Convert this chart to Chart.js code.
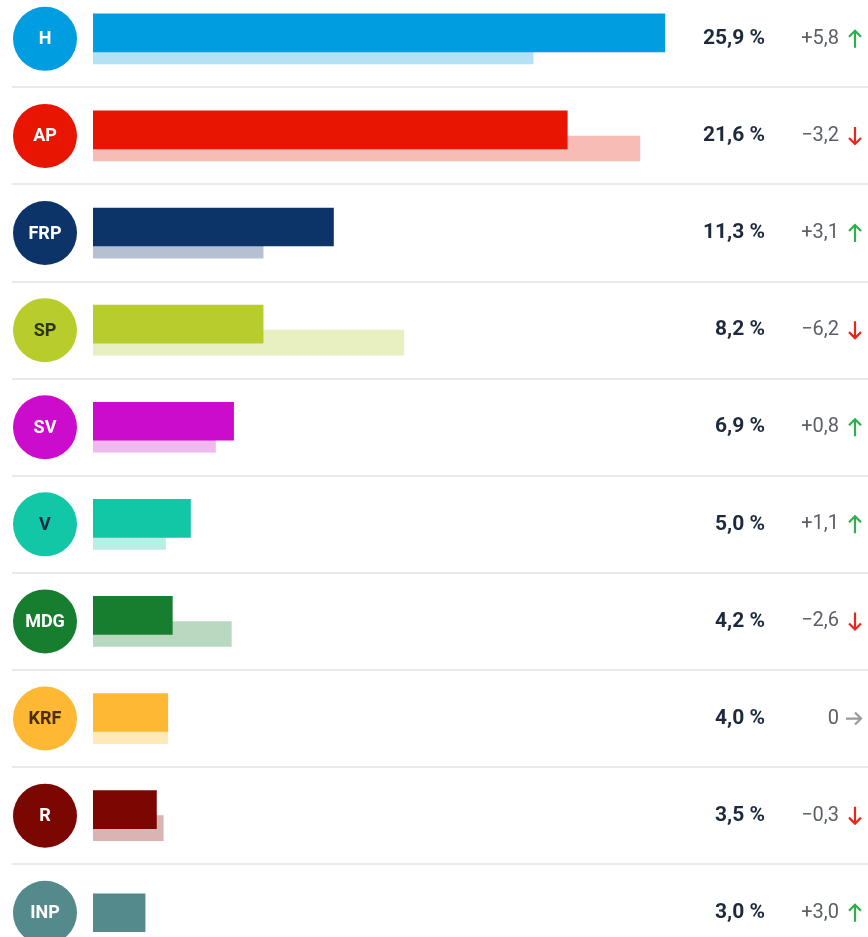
<!DOCTYPE html>
<html>
<head>
<meta charset="utf-8">
<script src="https://cdn.jsdelivr.net/npm/chart.js@4/dist/chart.umd.min.js"></script>
<style>
  html, body { margin: 0; padding: 0; background: #fff; }
  #wrap { width: 868px; height: 937px; }
</style>
</head>
<body>
<div id="wrap"><canvas id="valg" width="868" height="937"></canvas></div>
<script>
const parties = ['H', 'AP', 'FRP', 'SP', 'SV', 'V', 'MDG', 'KRF', 'R', 'INP'];
const current = [25.9, 21.6, 11.3, 8.2, 6.9, 5.0, 4.2, 4.0, 3.5, 3.0];
const previous = [20.1, 24.8, 8.2, 14.4, 6.1, 3.9, 6.8, 4.0, 3.8, 0];
const change = [5.8, -3.2, 3.1, -6.2, 0.8, 1.1, -2.6, 0, -0.3, 3.0];

const partyColors = ['#009ee0', '#e81502', '#0d3468', '#b8cc2b', '#cc0ccc', '#12c7a6', '#177e30', '#ffb833', '#7b0800', '#548a8b'];
const prevColors = ['#b3e2f6', '#f7bcb5', '#b5c1d3', '#e8f0c2', '#f0b8ee', '#b8eee4', '#b8d9c0', '#ffe9b8', '#d9b4b2', '#cfdcdc'];
const badgeText = ['#fff', '#fff', '#fff', '#2b3510', '#fff', '#0d2a45', '#fff', '#4a2e00', '#fff', '#fff'];

// small vertical nudge so the two bars sit like in the original
const curShift = -0.062;
const prevShift = 0.129;

var curData = [];
var prevData = [];
for (var i = 0; i < parties.length; i++) {
    curData.push({ x: current[i], y: i + (previous[i] > 0 ? curShift : 0) });
    prevData.push({ x: previous[i] > 0 ? previous[i] : null, y: i + prevShift });
}

function fmt(v) {
    return v.toFixed(1).replace('.', ',');
}

function arrow(ctx, x, y, dir, color) {
    ctx.save();
    ctx.strokeStyle = color;
    ctx.lineWidth = 2.2;
    ctx.lineCap = 'butt';
    ctx.beginPath();
    if (dir === 'up') {
        ctx.moveTo(x, y + 9); ctx.lineTo(x, y - 8);
        ctx.moveTo(x - 6, y - 2); ctx.lineTo(x, y - 8); ctx.lineTo(x + 6, y - 2);
    } else if (dir === 'down') {
        ctx.moveTo(x, y - 9); ctx.lineTo(x, y + 8);
        ctx.moveTo(x - 6, y + 2); ctx.lineTo(x, y + 8); ctx.lineTo(x + 6, y + 2);
    } else {
        ctx.moveTo(x - 8, y); ctx.lineTo(x + 7, y);
        ctx.moveTo(x + 1, y - 6); ctx.lineTo(x + 7, y); ctx.lineTo(x + 1, y + 6);
    }
    ctx.stroke();
    ctx.restore();
}

const rowsPlugin = {
    id: 'rows',
    beforeDatasetsDraw(chart) {
        const ctx = chart.ctx;
        const y = chart.scales.y;
        ctx.save();
        ctx.strokeStyle = '#ebe8eb';
        ctx.lineWidth = 2;
        for (var i = 0; i < parties.length - 1; i++) {
            var py = Math.round(y.getPixelForValue(i + 0.5));
            ctx.beginPath();
            ctx.moveTo(12, py);
            ctx.lineTo(chart.width, py);
            ctx.stroke();
        }
        ctx.restore();
    },
    afterDraw(chart) {
        const ctx = chart.ctx;
        const y = chart.scales.y;
        ctx.save();
        for (var i = 0; i < parties.length; i++) {
            var cy = y.getPixelForValue(i);
            // badge
            ctx.fillStyle = partyColors[i];
            ctx.beginPath();
            ctx.arc(45, cy, 32, 0, Math.PI * 2);
            ctx.fill();
            ctx.fillStyle = badgeText[i];
            ctx.font = 'bold 18px Roboto';
            ctx.textAlign = 'center';
            ctx.textBaseline = 'middle';
            ctx.fillText(parties[i], 45, cy + 1);

            // share
            ctx.fillStyle = '#1c2a3b';
            ctx.font = 'bold 21px Roboto';
            ctx.textAlign = 'right';
            ctx.fillText(fmt(current[i]) + ' %', 765, cy);

            // change
            var c = change[i];
            var txt = c > 0 ? '+' + fmt(c) : c < 0 ? '\u2212' + fmt(-c) : '0';
            ctx.fillStyle = '#5b6068';
            ctx.font = '20px Roboto';
            ctx.fillText(txt, 839, cy);
            if (c > 0) arrow(ctx, 855, cy, 'up', '#2eae4e');
            else if (c < 0) arrow(ctx, 855, cy, 'down', '#e8261c');
            else arrow(ctx, 854, cy, 'right', '#9a9a9a');
        }
        ctx.restore();
    }
};

const dataValg = {
    datasets: [{
        label: '2021',
        data: curData,
        backgroundColor: partyColors,
        barThickness: 38,
        grouped: false
    }, {
        label: '2017',
        data: prevData,
        backgroundColor: prevColors,
        barThickness: 25,
        grouped: false
    }]
};

const configValg = {
    type: 'bar',
    data: dataValg,
    options: {
        indexAxis: 'y',
        responsive: false,
        maintainAspectRatio: false,
        animation: false,
        layout: {
            padding: { left: 93, right: 0, top: 0, bottom: 0 }
        },
        scales: {
            x: {
                type: 'linear',
                min: 0.705,
                max: 34.85,
                offset: false,
                display: false
            },
            y: {
                type: 'linear',
                min: -0.4,
                max: 9.25,
                reverse: true,
                offset: false,
                display: false
            }
        },
        plugins: {
            legend: { display: false },
            tooltip: { enabled: false }
        }
    },
    plugins: [rowsPlugin]
};

const chartValg = new Chart(
    document.getElementById('valg'),
    configValg
);
</script>
</body>
</html>
